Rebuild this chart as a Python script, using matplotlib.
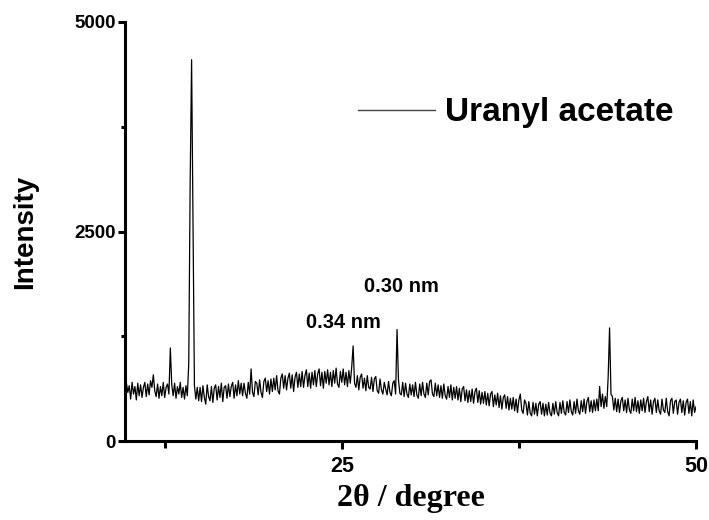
import numpy as np
import matplotlib
matplotlib.use("Agg")
import matplotlib.pyplot as plt
from matplotlib.ticker import MultipleLocator

# ---- data ----
start_2theta = 9.7
step_2theta = 0.1
intensity_rows = [
    [520, 690, 580],                                          # 9.7-9.9
    [660, 500, 700, 560, 650, 490, 690, 540, 670, 520],       # 10
    [640, 700, 530, 680, 550, 720, 640, 790, 600, 530],       # 11
    [680, 510, 650, 540, 700, 520, 640, 680, 560, 1110],      # 12
    [670, 540, 690, 510, 650, 560, 700, 520, 640, 500],       # 13
    [660, 540, 930, 3100, 4550, 2650, 660, 500, 640, 480],    # 14
    [640, 470, 660, 520, 440, 670, 530, 480, 650, 460],       # 15
    [630, 670, 490, 650, 520, 690, 470, 640, 660, 510],       # 16
    [680, 530, 650, 700, 510, 670, 540, 720, 560, 690],       # 17
    [540, 690, 570, 510, 700, 560, 860, 580, 530, 710],       # 18
    [690, 550, 730, 580, 520, 710, 750, 590, 720, 560],       # 19
    [740, 590, 750, 610, 780, 600, 560, 750, 800, 630],       # 20
    [780, 610, 750, 810, 630, 790, 590, 760, 820, 640],       # 21
    [800, 650, 830, 640, 780, 850, 650, 810, 630, 820],       # 22
    [670, 840, 650, 800, 860, 660, 820, 630, 830, 690],       # 23
    [850, 670, 820, 650, 840, 690, 870, 680, 640, 830],       # 24
    [700, 860, 670, 820, 650, 840, 690, 880, 1134, 690],      # 25
    [640, 780, 610, 760, 800, 630, 750, 600, 780, 640],       # 26
    [620, 760, 590, 740, 770, 600, 570, 740, 610, 560],       # 27
    [700, 620, 550, 710, 580, 540, 690, 720, 560, 1330],      # 28
    [730, 570, 550, 700, 530, 690, 560, 520, 680, 550],       # 29
    [670, 530, 700, 550, 510, 680, 540, 700, 560, 520],       # 30
    [690, 550, 710, 730, 560, 530, 690, 540, 670, 520],       # 31
    [660, 510, 680, 540, 500, 650, 520, 670, 490, 640],       # 32
    [510, 650, 490, 630, 470, 620, 650, 480, 610, 460],       # 33
    [600, 470, 620, 450, 590, 630, 460, 600, 440, 580],       # 34
    [450, 590, 430, 570, 420, 560, 590, 410, 550, 430],       # 35
    [570, 400, 540, 380, 520, 550, 390, 530, 370, 510],       # 36
    [380, 520, 360, 500, 340, 490, 560, 370, 330, 490],       # 37
    [450, 310, 470, 330, 300, 460, 320, 450, 300, 440],       # 38
    [470, 320, 450, 300, 440, 310, 460, 330, 300, 450],       # 39
    [320, 470, 340, 300, 460, 330, 480, 340, 310, 470],       # 40
    [340, 490, 350, 310, 470, 330, 500, 360, 320, 480],       # 41
    [350, 500, 330, 470, 520, 350, 480, 340, 490, 360],       # 42
    [500, 360, 650, 410, 560, 390, 530, 410, 760, 1350],      # 43
    [560, 530, 370, 510, 350, 500, 340, 480, 520, 360],       # 44
    [490, 340, 510, 370, 330, 500, 360, 520, 350, 480],       # 45
    [330, 490, 360, 510, 340, 470, 530, 350, 490, 320],       # 46
    [470, 510, 340, 490, 360, 320, 500, 370, 340, 510],       # 47
    [350, 300, 480, 510, 330, 470, 490, 320, 460, 500],       # 48
    [340, 480, 310, 460, 500, 330, 470, 300, 490, 340],       # 49
    [410],                                                    # 50
]
series_label = "Uranyl acetate"
x_ticks = [25, 50]
y_ticks = [0, 2500, 5000]
annotations = [("0.30 nm", 29.2, 1840), ("0.34 nm", 25.1, 1410)]

intensity = np.array([v for row in intensity_rows for v in row], dtype=float)
two_theta = np.round(start_2theta + step_2theta * np.arange(len(intensity)), 2)

# ---- figure ----
W, H = 709, 520
fig = plt.figure(figsize=(W / 100, H / 100), dpi=100)
ax = fig.add_axes([125 / W, 1 - 441 / H, (696 - 125) / W, (441 - 22) / H])

ax.plot(two_theta, intensity, color="black", lw=0.9, label=series_label)

ax.set_xlim(9.7, 50)
ax.set_ylim(0, 5000)

for side in ("top", "right"):
    ax.spines[side].set_visible(False)
for side in ("left", "bottom"):
    ax.spines[side].set_linewidth(2.2)

ax.set_xticks(x_ticks)
ax.set_yticks(y_ticks)
ax.xaxis.set_minor_locator(MultipleLocator(12.5))
ax.yaxis.set_minor_locator(MultipleLocator(1250))
ax.tick_params(axis="x", which="major", direction="out", length=6, width=2.2, pad=5)
ax.tick_params(axis="x", which="minor", direction="out", length=5, width=2.2)
ax.tick_params(axis="y", which="major", direction="out", length=5, width=2.2, pad=1.5)
ax.tick_params(axis="y", which="minor", direction="out", length=3, width=2.2)

for lab in ax.get_xticklabels():
    lab.set_fontfamily("Liberation Sans")
    lab.set_fontweight("bold")
    lab.set_fontsize(15.5)
for lab in ax.get_yticklabels():
    lab.set_fontfamily("Liberation Sans")
    lab.set_fontweight("bold")
    lab.set_fontsize(13.5)

ax.set_ylabel("Intensity", fontfamily="Liberation Sans", fontweight="bold",
              fontsize=20, labelpad=26)
ax.set_xlabel("2θ / degree", fontfamily="Liberation Serif", fontweight="bold",
              fontsize=23, labelpad=5)

for text, xv, yv in annotations:
    ax.text(xv, yv, text, fontfamily="Liberation Sans", fontweight="bold",
            fontsize=14.5, ha="center", va="center")

leg = ax.legend(loc="center left", bbox_to_anchor=((358 - 125) / 571, (441 - 113) / 419),
                frameon=False, borderpad=0, borderaxespad=0,
                handlelength=2.3, handletextpad=0.3,
                prop={"family": "Liberation Sans", "weight": "bold", "size": 24})
for h in leg.get_lines():
    h.set_linewidth(1.0)
    h.set_color("#444444")

fig.savefig("out.png", dpi=100)
